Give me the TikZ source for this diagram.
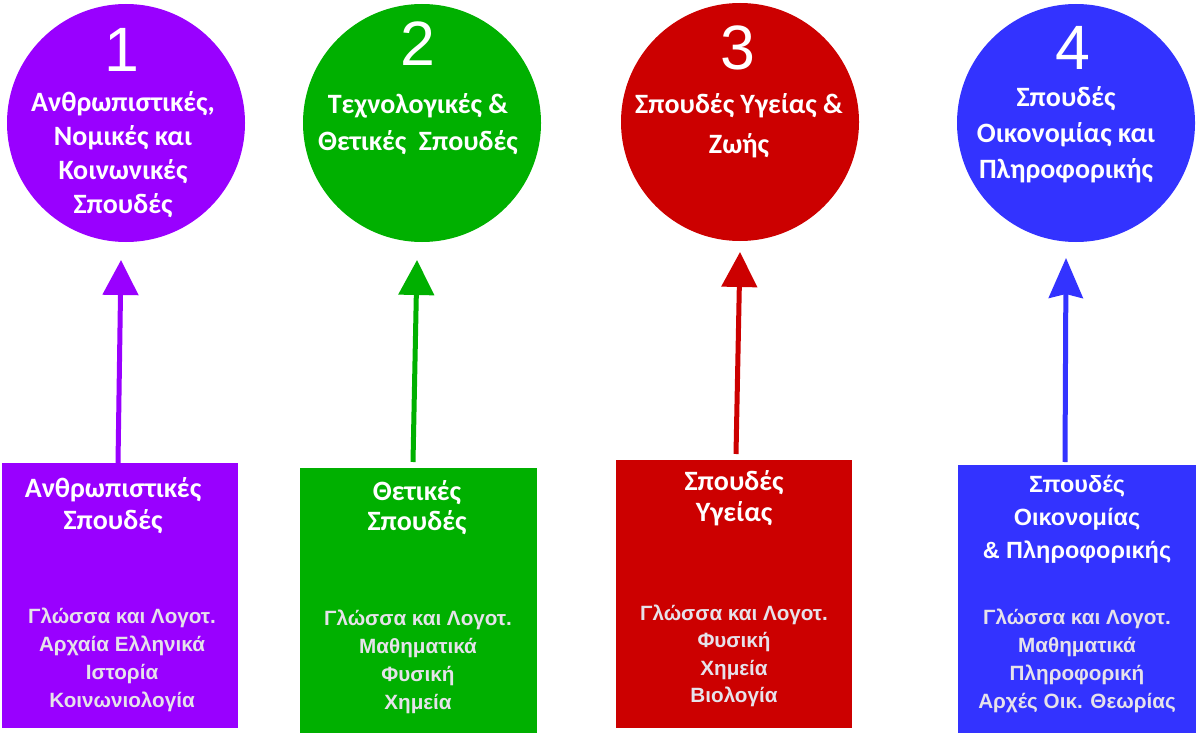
\documentclass[tikz,border=0pt]{standalone}
\usepackage{fontspec}
\setmainfont{Liberation Sans}
\newfontfamily\hum{Carlito}
\usetikzlibrary{arrows.meta}
\definecolor{cpur}{RGB}{153,0,255}
\definecolor{cgrn}{RGB}{0,176,0}
\definecolor{cred}{RGB}{204,0,0}
\definecolor{cblu}{RGB}{51,51,255}
\definecolor{subj}{RGB}{230,226,234}
\begin{document}
\begin{tikzpicture}[x=0.75pt,y=-0.75pt,
  disc/.style={circle, inner sep=0pt, minimum size=178.5pt},
  panel/.style={rectangle, inner sep=0pt, minimum width=177.5pt},
  numtxt/.style={text=white, inner sep=0pt, font=\fontsize{47}{47}\selectfont},
  titletxt/.style={text=white, inner sep=0pt, align=center, font=\hum\bfseries\fontsize{21}{25.5}\selectfont},
  subjtxt/.style={text=subj, inner sep=0pt, align=center, font=\bfseries\fontsize{15.5}{21}\selectfont},
  link/.style={line width=3.75pt, -{Triangle[length=26.25pt,width=26.25pt]}}
]
\useasboundingbox (0,0) rectangle (1198,738);

% circles
\node[disc, fill=cpur] (c1) at (126,123) {};
\node[disc, fill=cgrn] (c2) at (422,123) {};
\node[disc, fill=cred] (c3) at (740,122) {};
\node[disc, fill=cblu] (c4) at (1076,123) {};

\node[numtxt] (n1) at (122,50) {1};
\node[numtxt] (n2) at (418,44) {2};
\node[numtxt] (n3) at (738,48) {3};
\node[numtxt] (n4) at (1073,48) {4};

\node[titletxt] (ct1) at (123,155) {Ανθρωπιστικές,\\Νομικές και\\Κοινωνικές\\Σπουδές};
\node[titletxt, font=\hum\bfseries\fontsize{21}{27.5}\selectfont] (ct2) at (418,124) {Τεχνολογικές \&\\Θετικές\ \ Σπουδές};
\node[titletxt, font=\hum\bfseries\fontsize{21}{30}\selectfont] (ct3) at (739,126) {Σπουδές Υγείας \&\\Ζωής};
\node[titletxt, font=\hum\bfseries\fontsize{21}{27}\selectfont] (ct4) at (1066,135) {Σπουδές\\Οικονομίας και\\Πληροφορικής};

% boxes
\node[panel, fill=cpur, minimum height=198.75pt] (b1) at (120,595.5) {};
\node[panel, fill=cgrn, minimum height=198.75pt] (b2) at (418.5,600.5) {};
\node[panel, fill=cred, minimum height=201pt] (b3) at (734,594) {};
\node[panel, fill=cblu, minimum height=201pt, minimum width=178.5pt] (b4) at (1077,599) {};

\node[titletxt, font=\hum\bfseries\fontsize{21}{24}\selectfont] (bt1) at (113,506) {Ανθρωπιστικές\\Σπουδές};
\node[titletxt, font=\hum\bfseries\fontsize{21}{22.5}\selectfont] (bt2) at (417,508) {Θετικές\\Σπουδές};
\node[titletxt, font=\hum\bfseries\fontsize{21}{23.25}\selectfont] (bt3) at (734,498) {Σπουδές\\Υγείας};
\node[titletxt, font=\bfseries\fontsize{17.6}{24.75}\selectfont] (bt4) at (1077,519) {Σπουδές\\Οικονομίας\\\& Πληροφορικής};

\node[subjtxt] (s1) at (122,660) {Γλώσσα και Λογοτ.\\Αρχαία Ελληνικά\\Ιστορία\\Κοινωνιολογία};
\node[subjtxt] (s2) at (418,662) {Γλώσσα και Λογοτ.\\Μαθηματικά\\Φυσική\\Χημεία};
\node[subjtxt, font=\bfseries\fontsize{15.5}{20.5}\selectfont] (s3) at (734,656) {Γλώσσα και Λογοτ.\\Φυσική\\Χημεία\\Βιολογία};
\node[subjtxt] (s4) at (1077,661) {Γλώσσα και Λογοτ.\\Μαθηματικά\\Πληροφορική\\Αρχές Οικ. Θεωρίας};

% arrows
\coordinate (a1) at (118,463); \coordinate (t1) at (121,260);
\coordinate (a2) at (413,462); \coordinate (t2) at (417,260);
\coordinate (a3) at (736,454); \coordinate (t3) at (740,252);
\coordinate (a4) at (1065,462); \coordinate (t4) at (1066,258);
\draw[link, draw=cpur] (a1) -- (t1);
\draw[link, draw=cgrn] (a2) -- (t2);
\draw[link, draw=cred] (a3) -- (t3);
\draw[line width=3.75pt, draw=cblu, -{Stealth[length=30pt,width=25.5pt,inset=3pt]}] (a4) -- (t4);
\end{tikzpicture}
\end{document}
